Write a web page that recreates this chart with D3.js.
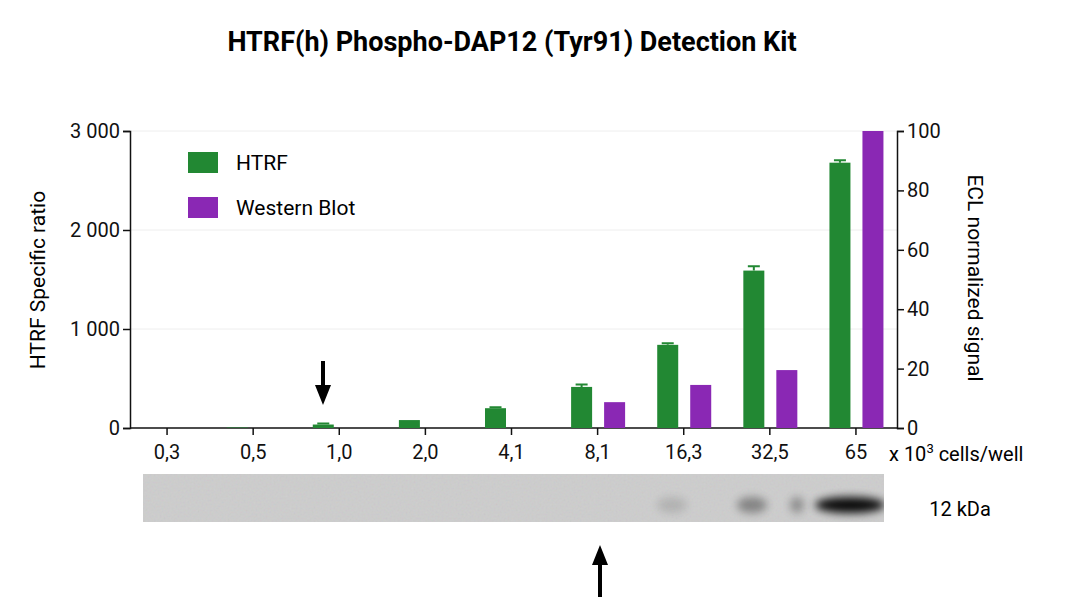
<!DOCTYPE html>
<html><head><meta charset="utf-8">
<script src="https://cdn.jsdelivr.net/npm/d3@7"></script>
<style>body{margin:0;background:#fff}text{font-family:Roboto,"Noto Sans",sans-serif}</style>
</head><body><div id="chart"></div>
<script>
const categories = ['0,3','0,5','1,0','2,0','4,1','8,1','16,3','32,5','65'];
const htrf = [0, 5, 35, 80, 200, 415, 840, 1590, 2680];
const htrfErr = [0, 0, 10, 0, 10, 25, 15, 45, 25];
const western = [0, 0, 0, 0, 0, 8.7, 14.5, 19.5, 100];
const leftTicks = [0, 1000, 2000, 3000];
const rightTicks = [0, 20, 40, 60, 80, 100];
// blot band intensities: [x centre, width, darkness]
const blotBands = [[672, 30, 0.12], [752, 30, 0.35], [797, 14, 0.3], [850, 70, 0.95]];

const W = 1080, H = 613;
const svg = d3.select('#chart').append('svg').attr('width', W).attr('height', H);
const fmt = d => d3.format(',')(d).replace(/,/g, ' ');

const x = d3.scaleBand().domain(categories).range([124, 899]).padding(0);
const yL = d3.scaleLinear().domain([0, 3000]).range([428, 131]);
const yR = d3.scaleLinear().domain([0, 100]).range([428, 131]);

svg.append('text').attr('x', 512).attr('y', 51).attr('text-anchor', 'middle')
  .attr('font-size', 27).attr('font-weight', 'bold').text('HTRF(h) Phospho-DAP12 (Tyr91) Detection Kit');

// gridlines
svg.append('g').selectAll('line').data(leftTicks.slice(1)).join('line')
  .attr('x1', 130).attr('x2', 897).attr('y1', d => yL(d)).attr('y2', d => yL(d))
  .attr('stroke', '#eee');

const gL = svg.append('g').attr('transform', 'translate(130,0)')
  .call(d3.axisLeft(yL).tickValues(leftTicks).tickFormat(fmt).tickSize(7));
const gR = svg.append('g').attr('transform', 'translate(897,0)')
  .call(d3.axisRight(yR).tickValues(rightTicks).tickSize(7));
const gX = svg.append('g').attr('transform', 'translate(0,428)')
  .call(d3.axisBottom(x).tickSize(7).tickPadding(10));
[gL, gR, gX].forEach(g => {
  g.selectAll('text').attr('font-size', 20).attr('fill', '#111');
  g.selectAll('line,path').attr('stroke', '#111').attr('stroke-width', 1.5);
});
gX.select('.domain').attr('d', 'M130,0H897');

const bw = 21;
const gx = d => x(d) + x.bandwidth() / 2;
svg.append('g').selectAll('rect').data(categories).join('rect')
  .attr('x', (d) => gx(d) - 16 - bw / 2).attr('width', bw)
  .attr('y', (d, i) => yL(htrf[i])).attr('height', (d, i) => 428 - yL(htrf[i]))
  .attr('fill', '#228833');
svg.append('g').selectAll('path').data(categories).join('path')
  .filter((d, i) => htrfErr[i] > 0)
  .attr('d', d => {
    const i = categories.indexOf(d), cx = gx(d) - 16;
    const y0 = yL(htrf[i]), y1 = yL(htrf[i] + htrfErr[i]);
    return `M${cx},${y0}V${y1}M${cx - 6},${y1}H${cx + 6}`;
  }).attr('stroke', '#228833').attr('stroke-width', 2).attr('fill', 'none');
svg.append('g').selectAll('rect').data(categories).join('rect')
  .attr('x', d => gx(d) + 17 - bw / 2).attr('width', bw)
  .attr('y', (d, i) => yR(western[i])).attr('height', (d, i) => 428 - yR(western[i]))
  .attr('fill', '#8a28b4');

// legend
[['HTRF', '#228833', 162], ['Western Blot', '#8a28b4', 207]].forEach(([t, c, y]) => {
  svg.append('rect').attr('x', 188).attr('y', y - 10).attr('width', 30).attr('height', 21).attr('fill', c);
  svg.append('text').attr('x', 236).attr('y', y + 8).attr('font-size', 21).text(t);
});

svg.append('text').attr('transform', 'translate(45,280) rotate(-90)').attr('text-anchor', 'middle')
  .attr('font-size', 21).text('HTRF Specific ratio');
svg.append('text').attr('transform', 'translate(968,278) rotate(90)').attr('text-anchor', 'middle')
  .attr('font-size', 21).text('ECL normalized signal');
const xl = svg.append('text').attr('x', 889).attr('y', 461).attr('font-size', 20);
xl.append('tspan').text('x 10');
xl.append('tspan').attr('dy', -8).attr('font-size', 13).text('3');
xl.append('tspan').attr('dy', 8).text(' cells/well');

// arrows
const arrow = (cx, yTail, yHead) => {
  const dir = Math.sign(yHead - yTail);
  svg.append('line').attr('x1', cx).attr('x2', cx).attr('y1', yTail).attr('y2', yHead - dir * 18)
    .attr('stroke', '#000').attr('stroke-width', 4);
  svg.append('path').attr('d', `M${cx - 8},${yHead - dir * 20}L${cx + 8},${yHead - dir * 20}L${cx},${yHead}Z`).attr('fill', '#000');
};
arrow(323, 361, 405);
arrow(600, 597, 545);

// blot
const defs = svg.append('defs');
defs.append('filter').attr('id', 'blur').attr('x', '-50%').attr('y', '-100%').attr('width', '200%').attr('height', '300%')
  .append('feGaussianBlur').attr('stdDeviation', 4);
defs.append('filter').attr('id', 'noise').attr('x', 0).attr('y', 0).attr('width', 1).attr('height', 1)
  .append('feTurbulence').attr('type', 'fractalNoise').attr('baseFrequency', 0.5);
svg.append('rect').attr('x', 143).attr('y', 474).attr('width', 741).attr('height', 48).attr('fill', '#cdcdcd');
svg.append('rect').attr('x', 143).attr('y', 474).attr('width', 741).attr('height', 48)
  .attr('filter', 'url(#noise)').attr('opacity', 0.1);
const clip = defs.append('clipPath').attr('id', 'bc');
clip.append('rect').attr('x', 143).attr('y', 474).attr('width', 741).attr('height', 48);
svg.append('g').attr('clip-path', 'url(#bc)').selectAll('ellipse').data(blotBands).join('ellipse')
  .attr('cx', d => d[0]).attr('cy', 505).attr('rx', d => d[1] / 2).attr('ry', 8)
  .attr('fill', '#000').attr('opacity', d => d[2]).attr('filter', 'url(#blur)');
svg.append('text').attr('x', 960).attr('y', 516).attr('text-anchor', 'middle').attr('font-size', 20).text('12 kDa');
</script></body></html>
